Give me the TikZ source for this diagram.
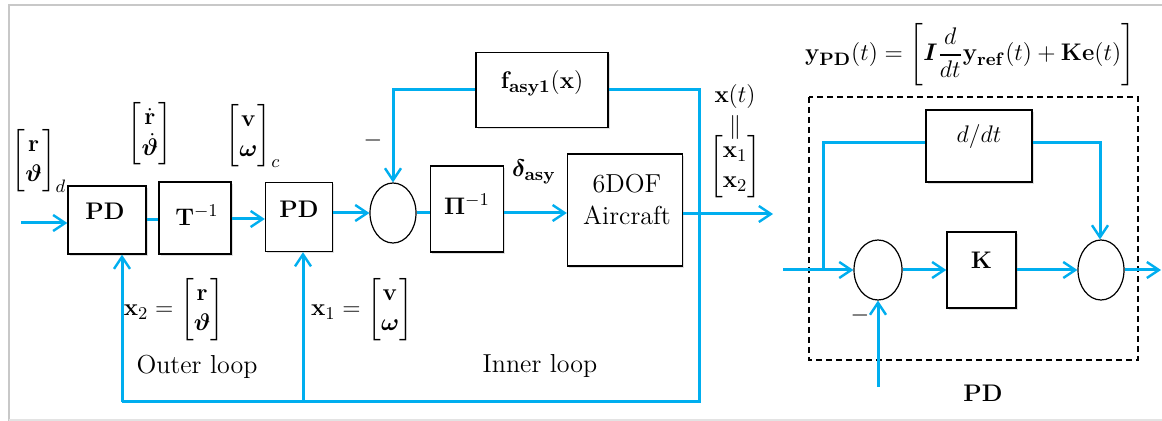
\documentclass[tikz,border=0pt]{standalone}
\usepackage{amsmath,amssymb,bm}
\usetikzlibrary{arrows.meta,shapes.geometric,shadows}
\definecolor{sig}{RGB}{0,174,239}
\definecolor{frame}{RGB}{200,200,200}
\begin{document}
\begin{tikzpicture}[x=0.5pt,y=-0.5pt,font=\fontsize{13}{15}\selectfont,
  blk/.style={draw,fill=white,line width=0.7pt,inner sep=0pt,
    drop shadow={opacity=0.25,shadow xshift=0.8pt,shadow yshift=-0.8pt}},
  sumn/.style={draw,ellipse,line width=0.6pt,minimum width=23pt,minimum height=30pt,inner sep=0pt,fill=white},
  wire/.style={draw=sig,line width=1.5pt},
  arr/.style={wire,-{Straight Barb[length=6pt,width=8pt,line width=1.2pt]}},
  lbl/.style={inner sep=0pt}]
\useasboundingbox (0,0) rectangle (1162,421);
% frame
\draw[frame,line width=1pt] (8.5,421) -- (8.5,5.5) -- (1162,5.5);
\draw[frame!50,line width=0.6pt] (8.5,420) -- (1162,420);

% ---------- left diagram ----------
\node[blk,minimum width=39pt,minimum height=34pt] (pd1) at (107,220) {};
\node[lbl] (pd1t) at (105,211) {$\mathbf{PD}$};
\node[blk,minimum width=36pt,minimum height=36pt] (tinv) at (195,218) {};
\node[lbl] (tinvt) at (197,215) {$\mathbf{T}^{-1}$};
\node[blk,minimum width=33.5pt,minimum height=34.5pt] (pd2) at (299,217) {};
\node[lbl] (pd2t) at (299,209) {$\mathbf{PD}$};
\node[sumn] (s1) at (393,213) {};
\node[blk,minimum width=36.5pt,minimum height=43pt] (pinv) at (467,209) {};
\node[lbl] (pinvt) at (467,204) {$\boldsymbol{\Pi}^{-1}$};
\node[blk,minimum width=57.5pt,minimum height=56pt] (plant) at (625,210) {};
\node[lbl,align=center,font=\fontsize{13}{16}\selectfont] (plantt) at (627,199) {6DOF\\Aircraft};
\node[blk,minimum width=66pt,minimum height=37.5pt] (fbox) at (542,90) {};
\node[lbl] (fboxt) at (542,83) {$\mathbf{f}_{\mathbf{asy1}}(\mathbf{x})$};

\coordinate (in1) at (21,223);
\coordinate (out1) at (773,214);
\coordinate (fbr) at (699,90);
\coordinate (fbb) at (699,402);
\coordinate (fbl) at (122,402);
\coordinate (fb2) at (303,402);

\draw[arr] (in1) -- (in1 -| pd1.west);
\draw[wire] (pd1.east |- 0,220) -- (tinv.west |- 0,220);
\draw[arr] (tinv.east |- 0,219) -- (pd2.west |- 0,219);
\draw[arr] (pd2.east |- s1.west) -- (s1.west);
\draw[wire] (s1.east) -- (s1.east -| pinv.west);
\draw[arr] (pinv.east |- 0,213) -- (plant.west |- 0,213);
\draw[arr] (plant.east |- out1) -- (out1);
\draw[wire] (fbox.east) -- (fbr) -- (fbb) -- (fbl);
\draw[arr] (fbl) -- (fbl |- pd1.south);
\draw[arr] (fb2) -- (fb2 |- pd2.south);
\draw[arr] (fbox.west) -- (fbox.west -| s1.north) -- (s1.north);

% labels
\node[lbl] (lrd) at (39,161) {$\begin{bmatrix}\mathbf{r}\\ \boldsymbol{\vartheta}\end{bmatrix}_{d}$};
\node[lbl] (lrdot) at (150,134) {$\begin{bmatrix}\dot{\mathbf{r}}\\ \dot{\boldsymbol{\vartheta}}\end{bmatrix}$};
\node[lbl] (lvc) at (253,136) {$\begin{bmatrix}\mathbf{v}\\ \boldsymbol{\omega}\end{bmatrix}_{c}$};
\node[lbl] (lminus1) at (373,141) {$-$};
\node[lbl] (ldelta) at (534,172) {$\boldsymbol{\delta}_{\mathbf{asy}}$};
\node[lbl] (lxt) at (735,97) {$\mathbf{x}(t)$};
\node[lbl] (leq) at (735,128) {$\|$};
\node[lbl] (lx12) at (735,167) {$\begin{bmatrix}\mathbf{x}_1\\ \mathbf{x}_2\end{bmatrix}$};
\node[lbl] (lx2) at (174,310) {$\mathbf{x}_2=\begin{bmatrix}\mathbf{r}\\ \boldsymbol{\vartheta}\end{bmatrix}$};
\node[lbl] (lx1) at (362,310) {$\mathbf{x}_1=\begin{bmatrix}\mathbf{v}\\ \boldsymbol{\omega}\end{bmatrix}$};
\node[lbl] (louter) at (197,367) {Outer loop};
\node[lbl] (linner) at (540,366) {Inner loop};

% ---------- right diagram ----------
\node[lbl] (eqn) at (970,55) {$\mathbf{y}_{\mathbf{PD}}(t)=\left[\boldsymbol{I}\dfrac{d}{dt}\mathbf{y}_{\mathbf{ref}}(t)+\mathbf{Ke}(t)\right]$};
\draw[dashed,line width=0.6pt,dash pattern=on 3pt off 2pt] (809,97) rectangle (1138,360);
\node[blk,minimum width=53pt,minimum height=36pt] (dbox) at (979,146) {};
\node[lbl] (dboxt) at (979,137) {$d/dt$};
\node[sumn,minimum width=24pt] (sA) at (878,270) {};
\node[blk,minimum width=34.5pt,minimum height=38pt] (kbox) at (981.5,270) {};
\node[lbl] (kboxt) at (981.5,260) {$\mathbf{K}$};
\node[sumn] (sB) at (1101,270) {};

\coordinate (pin) at (783,270);
\coordinate (br) at (823,270);
\coordinate (brt) at (823,143);
\coordinate (brr) at (1100,143);
\coordinate (pout) at (1161,270);
\coordinate (pfb) at (878,387);

\draw[arr] (pin) -- (sA.west);
\draw[wire] (br) -- (brt) -- (brt -| dbox.west);
\draw[arr] (brt -| dbox.east) -- (brr) -- (brr |- sB.north);
\draw[arr] (sA.east) -- (kbox.west);
\draw[arr] (kbox.east) -- (sB.west);
\draw[arr] (sB.east) -- (pout);
\draw[arr] (pfb) -- (sA.south);
\node[lbl] (lminus2) at (860,316) {$-$};
\node[lbl] (lpd) at (983,393) {$\mathbf{PD}$};
\end{tikzpicture}
\end{document}
